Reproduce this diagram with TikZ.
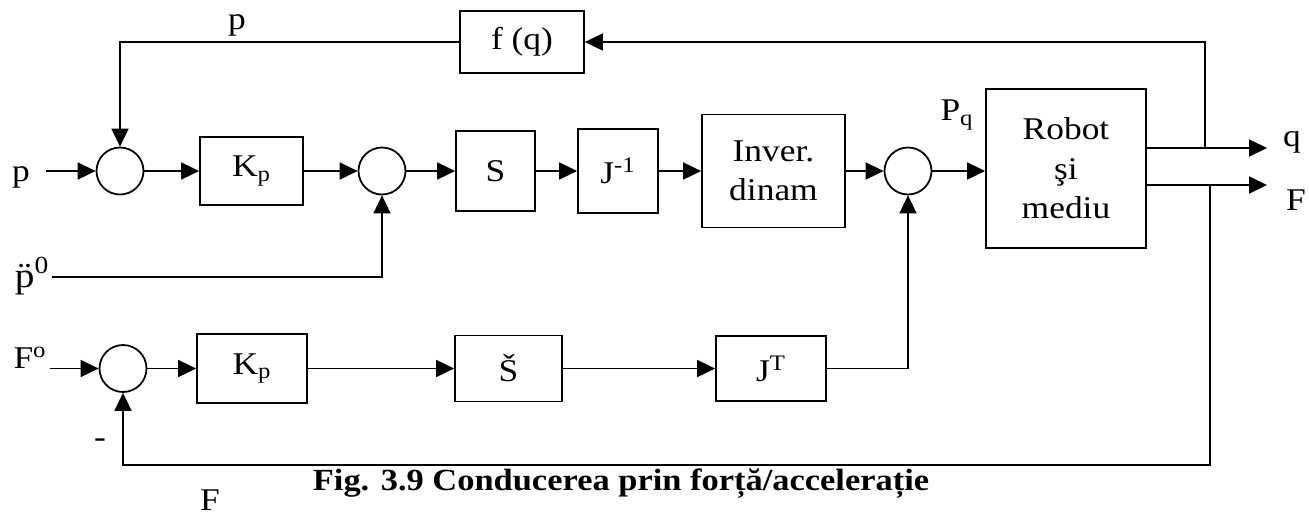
\documentclass[tikz,border=0pt]{standalone}
\usepackage{fontspec}
\setmainfont{Liberation Serif}[FakeStretch=1.12]
\usetikzlibrary{arrows.meta,positioning}

\begin{document}
\begin{tikzpicture}[x=0.02cm,y=-0.02cm,>={Triangle[length=0.36cm,width=0.34cm]},line width=1pt,
  every node/.style={font=\fontsize{18}{22.5}\selectfont},
  blk/.style={draw,line width=1pt,inner sep=0pt,align=center},
  sumc/.style={draw,circle,line width=1pt,minimum size=0.94cm,inner sep=0pt}]
\useasboundingbox (0,0) rectangle (1309,515);
% upper row
\node[sumc] (s1) at (120,171) {};
\node[blk,minimum width=2.06cm,minimum height=1.36cm] (kp1) at (251.5,171) {K\textsubscript{p}};
\node[sumc] (s2) at (382,171) {};
\node[blk,minimum width=1.58cm,minimum height=1.6cm] (S) at (495.5,171) {S};
\node[blk,minimum width=1.6cm,minimum height=1.68cm] (Jinv) at (618,171) {J\textsuperscript{-1}};
\node[blk,minimum width=2.86cm,minimum height=2.26cm] (inv) at (773.5,171) {Inver.\\dinam};
\node[sumc] (s3) at (908,171) {};
\node[blk,minimum width=3.2cm,minimum height=3.18cm] (robot) at (1066,168.5) {Robot\\şi\\mediu};
\node[blk,minimum width=2.48cm,minimum height=1.24cm] (fq) at (522,42) {f (q)};
% lower row
\node[sumc] (s4) at (123,368.5) {};
\node[blk,minimum width=2.2cm,minimum height=1.38cm] (kp2) at (252,368.5) {K\textsubscript{p}};
\node[blk,minimum width=2.14cm,minimum height=1.32cm] (Sc) at (508.5,368.5) {Š};
\node[blk,minimum width=2.2cm,minimum height=1.3cm] (JT) at (771,368.5) {J\textsuperscript{T}};
% labels
\node (plab) at (237,25) {p};
\node (pin) at (21,177) {p};
\node[font=\fontsize{20}{24}\selectfont] (pddlab) at (32,276) {\"p\textsuperscript{0}};
\node (flab) at (30,358) {F\textsuperscript{o}};
\node (pq) at (957,115) {P\textsubscript{q}};
\node (qlab) at (1292,142) {q};
\node (frlab) at (1296,200) {F};
\node (minus) at (100,443) {-};
\node (fblab) at (210,500) {F};
\node[font=\fontsize{17.5}{22.5}\selectfont\bfseries] (cap) at (621,484) {Fig. 3.9 Conducerea prin forță/accelerație};
\coordinate (pst) at (46,171);
\coordinate (pdd) at (52,277);
\coordinate (fst) at (50,368.5);
\coordinate (qo) at (1267,148);
\coordinate (fo) at (1267,185);
\coordinate (tq) at (1205,42);
\coordinate (tf) at (1210,185);
\coordinate (bf) at (1210,465);
% connections
\draw[->] (pst) -- (s1);
\draw[->] (s1) -- (kp1);
\draw[->] (kp1) -- (s2);
\draw[->] (s2) -- (S);
\draw[->] (S) -- (Jinv);
\draw[->] (Jinv) -- (inv);
\draw[->] (inv) -- (s3);
\draw[->] (s3) -- (s3 -| robot.west);
\draw[->] (robot.east |- qo) -- (qo);
\draw[->] (robot.east |- fo) -- (fo);
\draw[->] (tq |- qo) -- (tq) -- (fq);
\draw[->] (fq) -- (s1 |- fq) -- (s1);
\draw[->] (pdd) -- (s2 |- pdd) -- (s2);
\draw[->] (fst) -- (s4);
\draw[->] (s4) -- (kp2);
\draw[->] (kp2) -- (Sc);
\draw[->] (Sc) -- (JT);
\draw[->] (JT) -- (s3 |- JT) -- (s3);
\draw[->] (tf) -- (bf) -- (s4 |- bf) -- (s4);
\end{tikzpicture}
\end{document}
